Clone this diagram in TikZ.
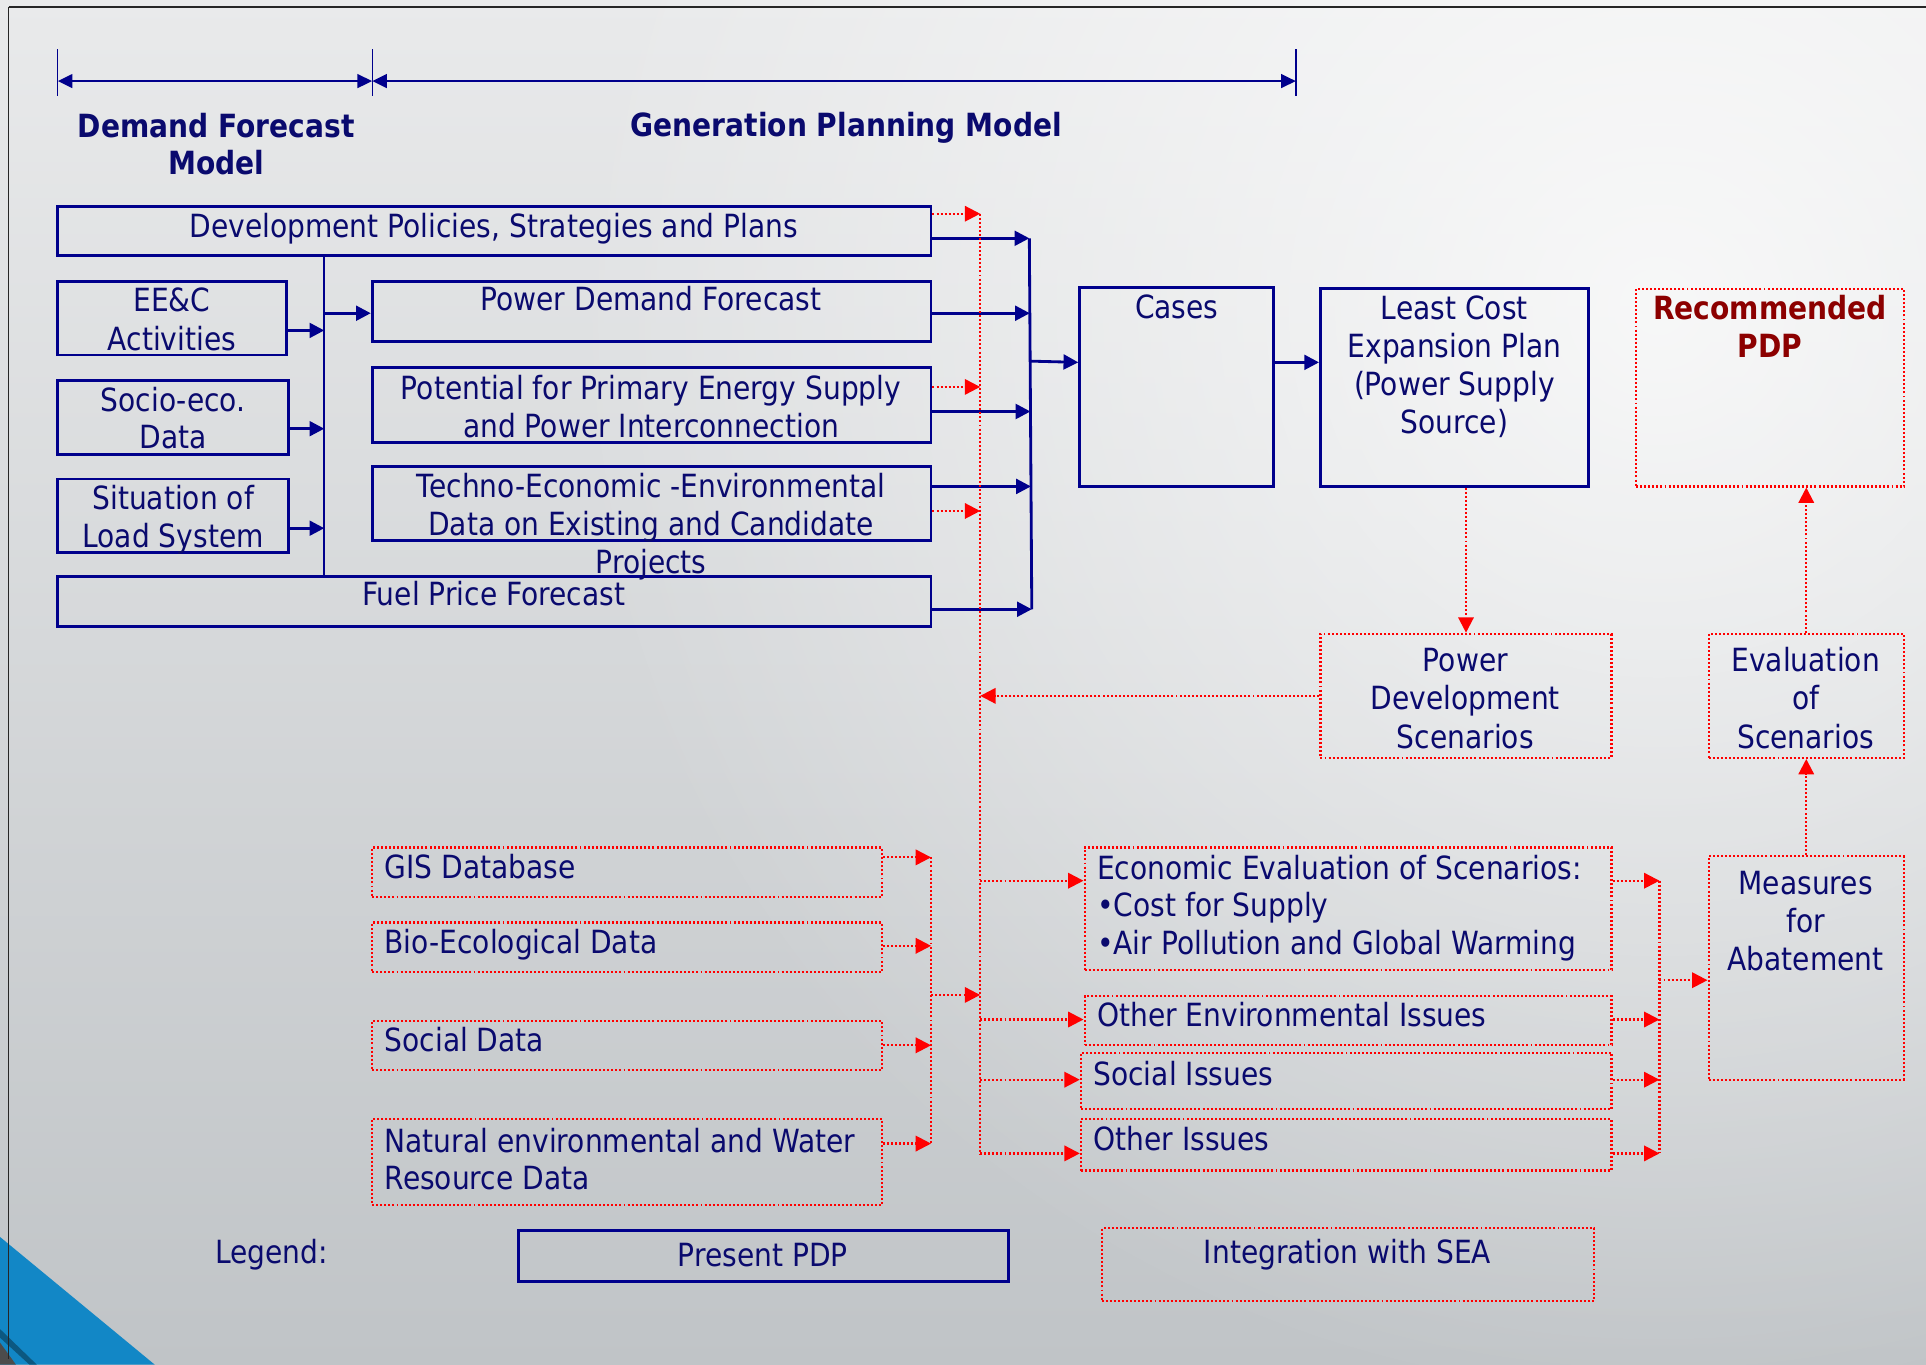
\documentclass[tikz,border=0pt]{standalone}
\usepackage{fontspec}
\setmainfont{DejaVu Sans}[FakeStretch=0.88]
\usetikzlibrary{arrows.meta,fit,fadings}
\definecolor{navy}{RGB}{0,0,140}
\definecolor{tnavy}{RGB}{10,10,110}
\definecolor{dred}{RGB}{140,0,0}
\definecolor{rred}{RGB}{255,0,0}
\definecolor{bgtop}{RGB}{233,234,235}
\definecolor{bgmid}{RGB}{226,228,229}
\definecolor{bgbot}{RGB}{192,196,199}
\definecolor{cblue}{RGB}{18,135,198}
\tikzfading[name=glow, inner color=transparent!25, outer color=transparent!100]
\begin{document}
\begin{tikzpicture}[x=1pt,y=-1pt,
  bbox/.style={draw=navy, line width=2.3pt, inner sep=0pt, rectangle},
  rbox/.style={draw=rred, line width=1.8pt, dash pattern=on 1.6pt off 1.7pt, inner sep=0pt, rectangle},
  bline/.style={draw=navy, line width=2.3pt},
  barr/.style={bline, -{Triangle[length=12pt,width=12pt]}},
  rline/.style={draw=rred, line width=1.8pt, dash pattern=on 1.6pt off 1.7pt},
  rarr/.style={rline, -{Triangle[length=12.5pt,width=12.5pt]}},
  txt/.style={text=tnavy, font=\fontsize{26}{31}\selectfont, align=center, inner sep=0pt, anchor=base},
  ltxt/.style={txt, align=left, anchor=base west},
  btxt/.style={txt, font=\fontsize{26}{31}\selectfont\bfseries},
  dimarr/.style={draw=navy, line width=2.3pt, {Triangle[length=12pt,width=11pt]}-{Triangle[length=12pt,width=11pt]}},
  tick/.style={draw=navy, line width=1pt}
]
\useasboundingbox (0,0) rectangle (1568,1111);
% background
\shade[top color=bgtop, middle color=bgmid, bottom color=bgbot] (0,0) rectangle (1568,1111);
\begin{scope}
\clip (0,0) rectangle (1568,1111);
\fill[white, path fading=glow] (1350,250) circle[radius=900];
\end{scope}
\fill[cblue] (0,1007) -- (126,1111) -- (0,1111) -- cycle;
\fill[cblue!65!black] (0,1082) -- (30,1111) -- (24,1111) -- (0,1089) -- cycle;
\fill[black!70] (0,1093) -- (13,1111) -- (0,1111) -- cycle;
\draw[line width=2pt, black!85] (7,5.5) -- (1568,5.5);
\draw[line width=1.2pt, black!85] (7,5.5) -- (7,1106);

% dimension lines
\coordinate (d1) at (47,66);
\coordinate (d2) at (303,66);
\coordinate (d3) at (1055,66);
\draw[tick] (47,40) -- (47,78);
\draw[tick] (303,40) -- (303,78);
\draw[tick] (1055,40) -- (1055,78);
\draw[dimarr] (d1) -- (d2);
\draw[dimarr] (d2) -- (d3);
\node[btxt, font=\fontsize{26}{30}\selectfont\bfseries] (hdf) at (176,142) {Demand Forecast\\Model};
\node[btxt] (hgp) at (689,111) {Generation Planning Model};

% blue boxes
\node[bbox, fit={(47,168) (758,208)}] (dev) {};
\node[bbox, fit={(47,229) (233,289)}] (eec) {};
\node[bbox, fit={(47,310) (235,370)}] (soc) {};
\node[bbox, fit={(47,390) (235,450)}] (sit) {};
\node[bbox, fit={(303,229) (758,278)}] (pdf) {};
\node[bbox, fit={(303,299) (758,360)}] (pot) {};
\node[bbox, fit={(303,380) (758,440)}] (tec) {};
\node[bbox, fit={(47,469) (758,510)}] (fuel) {};
\node[bbox, fit={(879,234) (1037,396)}] (cases) {};
\node[bbox, fit={(1075,235) (1293,396)}] (lc) {};
\node[rbox, fit={(1332,235) (1550,396)}] (rec) {};

\node[txt] (tdev) at (402,193) {Development Policies, Strategies and Plans};
\node[txt] (teec) at (140,285) {EE\&C\\Activities};
\node[txt, font=\fontsize{26}{30}\selectfont] (tsoc) at (141,365) {Socio-eco.\\Data};
\node[txt] (tsit) at (141,446) {Situation of\\Load System};
\node[txt] (tpdf) at (530,253) {Power Demand Forecast};
\node[txt] (tpot) at (530,356) {Potential for Primary Energy Supply\\and Power Interconnection};
\node[txt] (ttec) at (530,467) {Techno-Economic -Environmental\\Data on Existing and Candidate\\Projects};
\node[txt] (tfuel) at (402,493) {Fuel Price Forecast};
\node[txt] (tcases) at (958,259) {Cases};
\node[txt] (tlc) at (1184,353) {Least Cost\\Expansion Plan\\(Power Supply\\Source)};
\node[btxt, text=dred] (trec) at (1441,291) {Recommended\\PDP};

% left bus
\coordinate (bl1) at (264,208);
\coordinate (bl2) at (264,469);
\draw[bline, line width=1.6pt] (bl1) -- (bl2);
\draw[barr] (eec.east |- 0,269) -- (bl1 |- 0,269);
\draw[barr] (soc.east |- 0,349) -- (bl1 |- 0,349);
\draw[barr] (sit.east |- 0,430) -- (bl1 |- 0,430);
\draw[barr] (bl1 |- 0,255) -- (pdf.west |- 0,255);

% right blue bus
\coordinate (br1) at (838,194);
\coordinate (br2) at (840,496);
\draw[bline] (br1) -- (br2);
\draw[barr] (dev.east |- 0,194) -- (br1 |- 0,194);
\draw[barr] (pdf.east |- 0,255) -- (838.4,255);
\draw[barr] (pot.east |- 0,335) -- (838.9,335);
\draw[barr] (tec.east |- 0,396) -- (839.3,396);
\draw[barr] (fuel.east |- 0,496) -- (br2);
\draw[barr] (838.7,294) -- (cases.west |- 0,295);
\draw[barr] (cases.east |- 0,295) -- (lc.west |- 0,295);

% red bus
\coordinate (rb1) at (798,174);
\coordinate (rb2) at (798,940);
\draw[rline] (rb1) -- (rb2);
\draw[rarr] (dev.east |- 0,174) -- (rb1 |- 0,174);
\draw[rarr] (pot.east |- 0,315) -- (rb1 |- 0,315);
\draw[rarr] (tec.east |- 0,416) -- (rb1 |- 0,416);

% scenario boxes
\node[rbox, fit={(1075,516) (1312,617)}] (pds) {};
\node[rbox, fit={(1391,516) (1550,617)}] (eval) {};
\node[rbox, fit={(1391,697) (1550,879)}] (meas) {};
\node[txt] (tpds) at (1193,609) {Power\\Development\\Scenarios};
\node[txt] (teval) at (1470,609) {Evaluation\\of\\Scenarios};
\node[txt] (tmeas) at (1470,790) {Measures\\for\\Abatement};
\draw[rarr] (pds.north |- lc.south) -- (pds.north);
\draw[rarr] (pds.west) -- (rb1 |- pds.west);
\draw[rarr] (eval.north) -- (eval.north |- rec.south);
\draw[rarr] (meas.north) -- (eval.south);

% left data boxes
\node[rbox, fit={(303,690) (718,730)}] (gis) {};
\node[rbox, fit={(303,751) (718,791)}] (bio) {};
\node[rbox, fit={(303,831) (718,871)}] (sd) {};
\node[rbox, fit={(303,911) (718,981)}] (nat) {};
\node[ltxt] (tgis) at (313,715) {GIS Database};
\node[ltxt] (tbio) at (313,776) {Bio-Ecological Data};
\node[ltxt] (tsd) at (313,856) {Social Data};
\node[ltxt, font=\fontsize{26}{30}\selectfont] (tnat) at (313,968) {Natural environmental and Water\\Resource Data};
\coordinate (lb1) at (758,698);
\coordinate (lb2) at (758,931);
\draw[rline] (lb1) -- (lb2);
\draw[rarr] (gis.east |- 0,698) -- (lb1 |- 0,698);
\draw[rarr] (bio.east |- 0,770) -- (lb1 |- 0,770);
\draw[rarr] (sd.east |- 0,851) -- (lb1 |- 0,851);
\draw[rarr] (nat.east |- 0,931) -- (lb1 |- 0,931);
\draw[rarr] (lb1 |- 0,810) -- (rb1 |- 0,810);

% issue boxes
\node[rbox, fit={(883,690) (1312,790)}] (econ) {};
\node[rbox, fit={(883,811) (1312,851)}] (oenv) {};
\node[rbox, fit={(880,857) (1312,903)}] (sis) {};
\node[rbox, fit={(880,911) (1312,953)}] (oth) {};
\node[ltxt, font=\fontsize{26}{30.5}\selectfont] (tecon) at (893,777) {Economic Evaluation of Scenarios:\\•Cost for Supply\\•Air Pollution and Global Warming};
\node[ltxt] (toenv) at (893,836) {Other Environmental Issues};
\node[ltxt] (tsis) at (890,884) {Social Issues};
\node[ltxt] (toth) at (890,937) {Other Issues};
\draw[rarr] (rb1 |- 0,717) -- (econ.west |- 0,717);
\draw[rarr] (rb1 |- 0,830) -- (oenv.west |- 0,830);
\draw[rarr] (rb1 |- 0,879) -- (sis.west |- 0,879);
\draw[rarr] (rb1 |- 0,939) -- (oth.west |- 0,939);
\coordinate (mb1) at (1351,717);
\coordinate (mb2) at (1351,939);
\draw[rline] (mb1) -- (mb2);
\draw[rarr] (econ.east |- 0,717) -- (mb1 |- 0,717);
\draw[rarr] (oenv.east |- 0,830) -- (mb1 |- 0,830);
\draw[rarr] (sis.east |- 0,879) -- (mb1 |- 0,879);
\draw[rarr] (oth.east |- 0,939) -- (mb1 |- 0,939);
\draw[rarr] (mb1 |- 0,798) -- (meas.west |- 0,798);

% legend
\node[txt] (tleg) at (221,1029) {Legend:};
\node[bbox, line width=2.6pt, fit={(422,1002) (821,1043)}] (lpdp) {};
\node[rbox, fit={(897,1000) (1298,1059)}] (lsea) {};
\node[txt] (tlpdp) at (621,1031) {Present PDP};
\node[txt] (tlsea) at (1097,1029) {Integration with SEA};
\end{tikzpicture}
\end{document}
